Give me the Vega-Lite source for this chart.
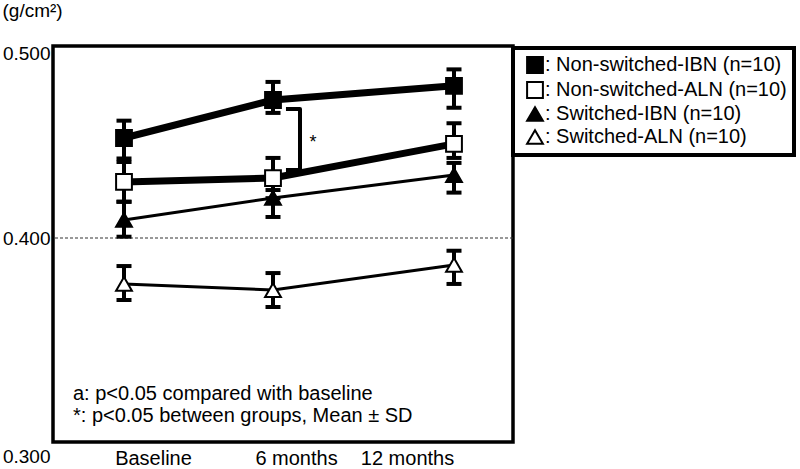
{
  "$schema": "https://vega.github.io/schema/vega-lite/v6.json",
  "width": 460,
  "height": 396,
  "autosize": {"type": "none"},
  "padding": {"left": 53, "top": 46, "right": 287, "bottom": 27},
  "background": "white",
  "config": {
    "view": {"stroke": "black", "strokeWidth": 3.5},
    "font": "Liberation Sans",
    "axis": {"labelFont": "Liberation Sans", "titleFont": "Liberation Sans"},
    "legend": {"strokeColor": "black", "strokeWidth": 4, "labelFont": "Liberation Sans"},
    "text": {"font": "Liberation Sans"}
  },
  "datasets": {
    "main": [
      {"group": "Non-switched-IBN (n=10)", "month": 0, "mean": 0.4542, "lo": 0.4431, "hi": 0.4636},
      {"group": "Non-switched-IBN (n=10)", "month": 6, "mean": 0.4748, "lo": 0.4678, "hi": 0.4846},
      {"group": "Non-switched-IBN (n=10)", "month": 12, "mean": 0.4825, "lo": 0.4706, "hi": 0.4914},
      {"group": "Non-switched-ALN (n=10)", "month": 0, "mean": 0.4304, "lo": 0.4196, "hi": 0.4412},
      {"group": "Non-switched-ALN (n=10)", "month": 6, "mean": 0.4325, "lo": 0.4216, "hi": 0.4434},
      {"group": "Non-switched-ALN (n=10)", "month": 12, "mean": 0.4510, "lo": 0.4434, "hi": 0.4622},
      {"group": "Switched-IBN (n=10)", "month": 0, "mean": 0.4098, "lo": 0.4007, "hi": 0.4197},
      {"group": "Switched-IBN (n=10)", "month": 6, "mean": 0.4217, "lo": 0.4114, "hi": 0.4260},
      {"group": "Switched-IBN (n=10)", "month": 12, "mean": 0.4341, "lo": 0.4246, "hi": 0.4407},
      {"group": "Switched-ALN (n=10)", "month": 0, "mean": 0.3751, "lo": 0.3664, "hi": 0.3848},
      {"group": "Switched-ALN (n=10)", "month": 6, "mean": 0.3718, "lo": 0.3626, "hi": 0.3810},
      {"group": "Switched-ALN (n=10)", "month": 12, "mean": 0.3854, "lo": 0.3751, "hi": 0.3931}
    ],
    "bracket": [
      {"month": 6.43, "v": 0.46992, "o": 1},
      {"month": 6.895, "v": 0.46992, "o": 2},
      {"month": 6.895, "v": 0.43686, "o": 3},
      {"month": 6.43, "v": 0.43686, "o": 4}
    ],
    "star": [{"month": 7.33, "v": 0.44905, "t": "*"}],
    "notes": [
      {"month": -2.054, "v": 0.3124, "t": "a: p<0.05 compared with baseline"},
      {"month": -2.054, "v": 0.3005, "t": "*: p<0.05 between groups, Mean ± SD"}
    ],
    "ref": [{"v": 0.4}]
  },
  "layer": [
    {
      "data": {"name": "ref"},
      "mark": {"type": "rule", "strokeDash": [3, 2], "strokeWidth": 1, "color": "#333333"},
      "encoding": {
        "y": {"field": "v", "type": "quantitative", "scale": {"domain": [0.28943, 0.50407], "nice": false, "zero": false},
          "axis": {"values": [0.3, 0.4, 0.5], "format": ".3f", "title": "(g/cm²)", "titleAngle": 0, "titleAlign": "left", "titleBaseline": "middle", "titleX": -51, "titleY": -36, "titleFontSize": 19, "titleFontWeight": "normal", "titleColor": "black", "labelFontSize": 19, "labelColor": "black", "labelPadding": 3, "ticks": false, "domain": false, "grid": false, "labelFlush": false, "labelOverlap": false, "labelBound": false,
            "labelOffset": {"condition": {"test": "datum.value < 0.35", "value": 34}, "value": 0}}}
      }
    },
    {
      "data": {"name": "main"},
      "transform": [{"filter": "indexof(datum.group, 'Non-switched') == 0"}],
      "mark": {"type": "line", "strokeWidth": 7, "color": "black"},
      "encoding": {
        "x": {"field": "month", "type": "quantitative", "scale": {"domain": [0, 6, 12], "range": [71, 220, 401], "nice": false, "zero": false},
          "axis": {"values": [0, 6, 12], "labelExpr": "datum.value == 0 ? 'Baseline' : datum.value == 6 ? '6 months' : '12 months'", "title": null, "ticks": false, "domain": false, "grid": false, "labelFontSize": 20, "labelColor": "black", "labelPadding": 6, "labelFlush": false, "labelOverlap": false,
            "labelOffset": {"condition": [{"test": "datum.value == 0", "value": 29}, {"test": "datum.value == 6", "value": 23}], "value": -47}}},
        "y": {"field": "mean", "type": "quantitative", "scale": {"domain": [0.28943, 0.50407], "nice": false, "zero": false}},
        "detail": {"field": "group"}
      }
    },
    {
      "data": {"name": "main"},
      "transform": [{"filter": "indexof(datum.group, 'Switched') == 0"}],
      "mark": {"type": "line", "strokeWidth": 3, "color": "black"},
      "encoding": {
        "x": {"field": "month", "type": "quantitative", "scale": {"domain": [0, 6, 12], "range": [71, 220, 401], "nice": false, "zero": false}},
        "y": {"field": "mean", "type": "quantitative", "scale": {"domain": [0.28943, 0.50407], "nice": false, "zero": false}},
        "detail": {"field": "group"}
      }
    },
    {
      "data": {"name": "main"},
      "mark": {"type": "rule", "strokeWidth": 4, "color": "black"},
      "encoding": {
        "x": {"field": "month", "type": "quantitative", "scale": {"domain": [0, 6, 12], "range": [71, 220, 401], "nice": false, "zero": false}},
        "y": {"field": "lo", "type": "quantitative", "scale": {"domain": [0.28943, 0.50407], "nice": false, "zero": false}},
        "y2": {"field": "hi"}
      }
    },
    {
      "data": {"name": "main"},
      "mark": {"type": "tick", "orient": "horizontal", "size": 15, "thickness": 4, "color": "black", "opacity": 1},
      "encoding": {
        "x": {"field": "month", "type": "quantitative", "scale": {"domain": [0, 6, 12], "range": [71, 220, 401], "nice": false, "zero": false}},
        "y": {"field": "lo", "type": "quantitative", "scale": {"domain": [0.28943, 0.50407], "nice": false, "zero": false}}
      }
    },
    {
      "data": {"name": "main"},
      "mark": {"type": "tick", "orient": "horizontal", "size": 15, "thickness": 4, "color": "black", "opacity": 1},
      "encoding": {
        "x": {"field": "month", "type": "quantitative", "scale": {"domain": [0, 6, 12], "range": [71, 220, 401], "nice": false, "zero": false}},
        "y": {"field": "hi", "type": "quantitative", "scale": {"domain": [0.28943, 0.50407], "nice": false, "zero": false}}
      }
    },
    {
      "data": {"name": "main"},
      "mark": {"type": "point", "filled": true, "strokeWidth": 2, "size": 250, "opacity": 1},
      "encoding": {
        "x": {"field": "month", "type": "quantitative", "scale": {"domain": [0, 6, 12], "range": [71, 220, 401], "nice": false, "zero": false}},
        "y": {"field": "mean", "type": "quantitative", "scale": {"domain": [0.28943, 0.50407], "nice": false, "zero": false}},
        "shape": {"field": "group", "type": "nominal",
          "scale": {"domain": ["Non-switched-IBN (n=10)", "Non-switched-ALN (n=10)", "Switched-IBN (n=10)", "Switched-ALN (n=10)"], "range": ["square", "square", "triangle-up", "triangle-up"]},
          "legend": {"title": null, "orient": "none", "legendX": 460, "legendY": 2, "labelExpr": "': ' + datum.label", "labelFontSize": 20, "labelColor": "black", "labelLimit": 400, "labelOffset": 0, "padding": 7, "rowPadding": 1, "symbolOffset": 5, "symbolSize": 250, "symbolStrokeWidth": 2}},
        "fill": {"field": "group", "type": "nominal",
          "scale": {"domain": ["Non-switched-IBN (n=10)", "Non-switched-ALN (n=10)", "Switched-IBN (n=10)", "Switched-ALN (n=10)"], "range": ["black", "white", "black", "white"]},
          "legend": {"title": null, "orient": "none", "legendX": 460, "legendY": 2, "labelExpr": "': ' + datum.label", "labelFontSize": 20, "labelColor": "black", "labelLimit": 400, "labelOffset": 0, "padding": 7, "rowPadding": 1, "symbolOffset": 5, "symbolSize": 250, "symbolStrokeWidth": 2}},
        "stroke": {"field": "group", "type": "nominal",
          "scale": {"domain": ["Non-switched-IBN (n=10)", "Non-switched-ALN (n=10)", "Switched-IBN (n=10)", "Switched-ALN (n=10)"], "range": ["black", "black", "black", "black"]},
          "legend": {"title": null, "orient": "none", "legendX": 460, "legendY": 2, "labelExpr": "': ' + datum.label", "labelFontSize": 20, "labelColor": "black", "labelLimit": 400, "labelOffset": 0, "padding": 7, "rowPadding": 1, "symbolOffset": 5, "symbolSize": 250, "symbolStrokeWidth": 2}}
      }
    },
    {
      "data": {"name": "bracket"},
      "mark": {"type": "line", "strokeWidth": 4, "color": "black", "strokeJoin": "round"},
      "encoding": {
        "x": {"field": "month", "type": "quantitative", "scale": {"domain": [0, 6, 12], "range": [71, 220, 401], "nice": false, "zero": false}},
        "y": {"field": "v", "type": "quantitative", "scale": {"domain": [0.28943, 0.50407], "nice": false, "zero": false}},
        "order": {"field": "o"}
      }
    },
    {
      "data": {"name": "star"},
      "mark": {"type": "text", "fontSize": 18, "align": "center", "baseline": "alphabetic", "color": "black"},
      "encoding": {
        "x": {"field": "month", "type": "quantitative", "scale": {"domain": [0, 6, 12], "range": [71, 220, 401], "nice": false, "zero": false}},
        "y": {"field": "v", "type": "quantitative", "scale": {"domain": [0.28943, 0.50407], "nice": false, "zero": false}},
        "text": {"field": "t"}
      }
    },
    {
      "data": {"name": "notes"},
      "mark": {"type": "text", "fontSize": 20, "align": "left", "baseline": "alphabetic", "color": "black"},
      "encoding": {
        "x": {"field": "month", "type": "quantitative", "scale": {"domain": [0, 6, 12], "range": [71, 220, 401], "nice": false, "zero": false}},
        "y": {"field": "v", "type": "quantitative", "scale": {"domain": [0.28943, 0.50407], "nice": false, "zero": false}},
        "text": {"field": "t"}
      }
    }
  ]
}
